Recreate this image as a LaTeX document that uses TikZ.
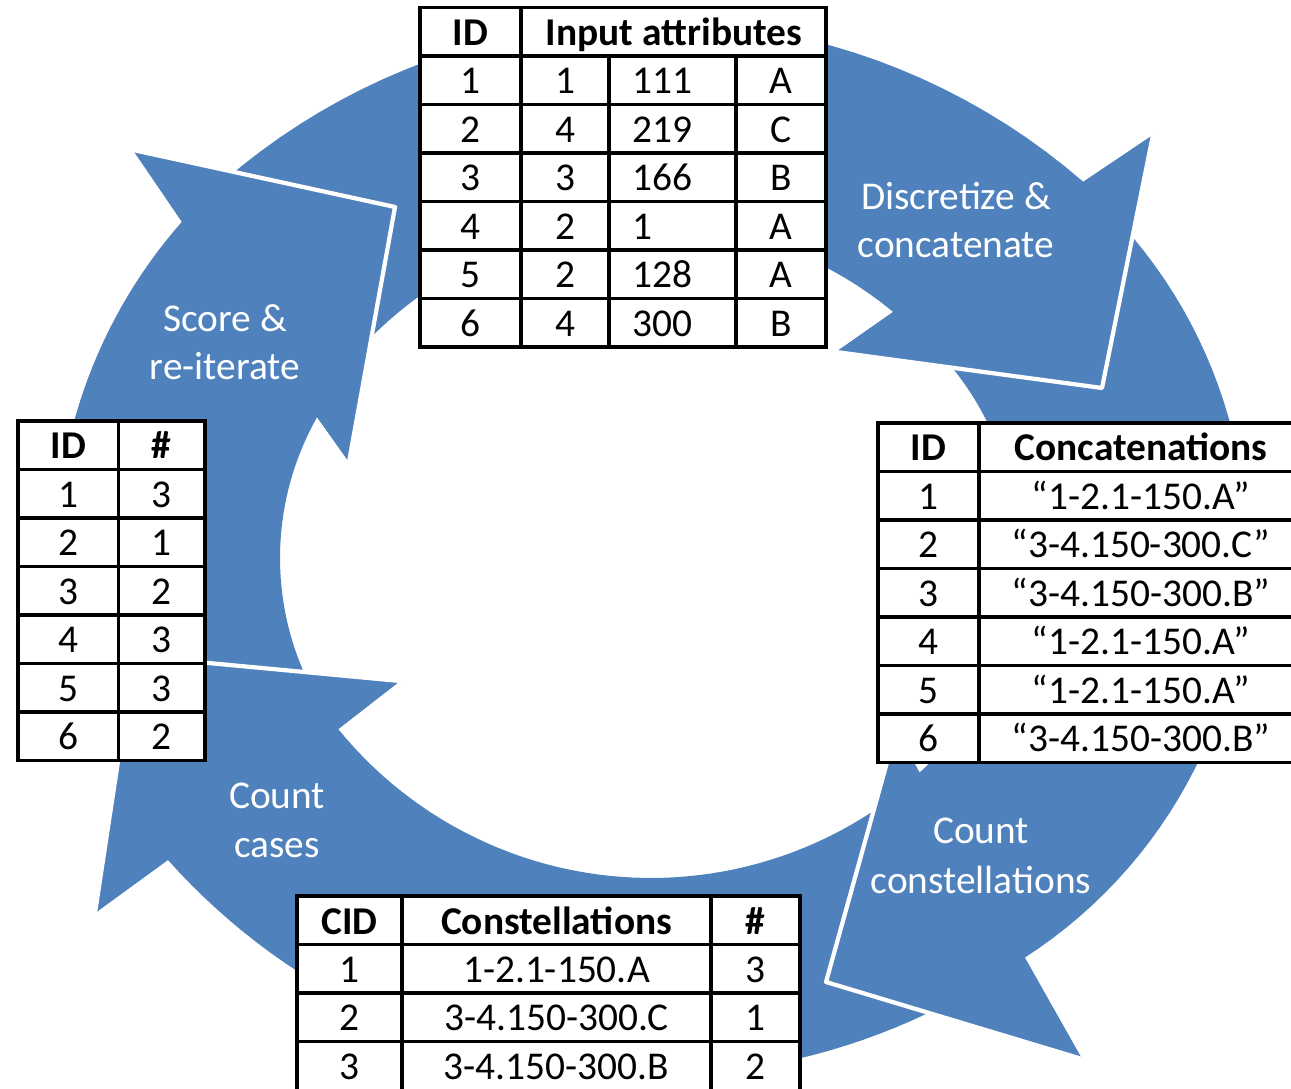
\documentclass[tikz,border=0pt]{standalone}
\usepackage{fontspec}
\setmainfont{Carlito}
\definecolor{cycleblue}{RGB}{79,129,189}
\tikzset{
  bandfill/.style={fill=cycleblue},
  headline/.style={draw=white, line width=1.2pt, line join=round},
  steplabel/.style={text=white, font=\fontsize{11.2pt}{13pt}\selectfont, anchor=base, inner sep=0pt},
  tablegrid/.style={draw=black, line width=0.9pt},
  tablebg/.style={fill=white},
  cell/.style={font=\fontsize{11.2pt}{13pt}\selectfont, anchor=base, inner sep=0pt},
  headcell/.style={cell, font=\fontsize{11.2pt}{13pt}\selectfont\bfseries},
}
\begin{document}
\begin{tikzpicture}[x=0.01cm, y=-0.01cm]
\useasboundingbox (0,0) rectangle (1291,1089);
\fill[bandfill] plot[domain=-131:-49, samples=40] ({653+656*cos(\x)}, {677+656*sin(\x)}) -- (1153,135) -- (1102,388) -- (836,352) -- plot[domain=-50.4:-136, samples=40] ({646+388*cos(\x)}, {611+388*sin(\x)}) -- cycle;
\fill[bandfill] plot[domain=-42:57.2, samples=50] ({762+485*cos(\x)}, {550+485*sin(\x)}) -- (1082,1059) -- (826,982) -- (896,730) -- plot[domain=48.3:-42, samples=50] ({724+294*cos(\x)}, {553+294*sin(\x)}) -- cycle;
\fill[bandfill] plot[domain=63:138.3, samples=50] ({650+646*cos(\x)}, {430+646*sin(\x)}) -- (95,913) -- (134,656) -- (400,681) -- plot[domain=140.9:53, samples=50] ({651+403*cos(\x)}, {475+403*sin(\x)}) -- cycle;
\fill[bandfill] plot[domain=163:221.4, samples=40] ({560+504*cos(\x)}, {555+504*sin(\x)}) -- (133,150) -- (395,207) -- (349,462) -- plot[domain=209.5:153, samples=40] ({566+286*cos(\x)}, {558+286*sin(\x)}) -- cycle;
\fill[bandfill] (1083,182) -- (1153,135) -- (1102,388) -- (836,352) -- (893,312) -- cycle;
\draw[headline] (1153,135) -- (1102,388) -- (836,352);
\fill[bandfill] (1025,958) -- (1082,1059) -- (826,982) -- (896,730) -- (919,772) -- cycle;
\draw[headline] (1082,1059) -- (826,982) -- (896,730);
\fill[bandfill] (168,860) -- (95,913) -- (134,656) -- (400,681) -- (338,729) -- cycle;
\draw[headline] (95,913) -- (134,656) -- (400,681);
\fill[bandfill] (182,222) -- (133,150) -- (395,207) -- (349,462) -- (317,417) -- cycle;
\draw[headline] (133,150) -- (395,207) -- (349,462);
\node[steplabel] (disc-1) at (956,210) {Discretize \&};
\node[steplabel] (disc-2) at (956,258) {concatenate};
\node[steplabel] (cons-1) at (981,844) {Count};
\node[steplabel] (cons-2) at (981,893) {constellations};
\node[steplabel] (case-1) at (277,809) {Count};
\node[steplabel] (case-2) at (277,857) {cases};
\node[steplabel] (score-1) at (225,332) {Score \&};
\node[steplabel] (score-2) at (225,380) {re-iterate};
\fill[tablebg] (420,7.5) rectangle (826,347);
\draw[tablegrid] (420,7.5) rectangle (826,347);
\foreach \y in {56,104.5,...,298.5} \draw[tablegrid] (420,\y) -- (826,\y);
\draw[tablegrid] (521,7.5) -- (521,347);
\draw[tablegrid] (609,56) -- (609,347);
\draw[tablegrid] (736,56) -- (736,347);
\node[headcell] (inp-id) at (470.5,45.5) {ID};
\node[headcell] (inp-attr) at (674,45.5) {Input attributes};
\foreach \id/\va/\vb/\vc [count=\r] in {1/1/111/A,2/4/219/C,3/3/166/B,4/2/1/A,5/2/128/A,6/4/300/B} {
  \node[cell] (inp-\r-1) at (470.5,{45.5+48.5*\r}) {\id};
  \node[cell] (inp-\r-2) at (565,{45.5+48.5*\r}) {\va};
  \node[cell, anchor=base west] (inp-\r-3) at (632,{45.5+48.5*\r}) {\vb};
  \node[cell] (inp-\r-4) at (781,{45.5+48.5*\r}) {\vc};
}
\fill[tablebg] (878,423) rectangle (1303,762.5);
\draw[tablegrid] (878,423) rectangle (1303,762.5);
\foreach \y in {471.5,520,...,714} \draw[tablegrid] (878,\y) -- (1303,\y);
\draw[tablegrid] (979,423) -- (979,762.5);
\node[headcell] (cat-id) at (928.5,461) {ID};
\node[headcell] (cat-str) at (1141,461) {Concatenations};
\foreach \id/\vs [count=\r] in {1/“1-2.1-150.A”,2/“3-4.150-300.C”,3/“3-4.150-300.B”,4/“1-2.1-150.A”,5/“1-2.1-150.A”,6/“3-4.150-300.B”} {
  \node[cell] (cat-\r-1) at (928.5,{461+48.5*\r}) {\id};
  \node[cell] (cat-\r-2) at (1141,{461+48.5*\r}) {\vs};
}
\fill[tablebg] (18,421) rectangle (205,760.5);
\draw[tablegrid] (18,421) rectangle (205,760.5);
\foreach \y in {469.5,518,...,712} \draw[tablegrid] (18,\y) -- (205,\y);
\draw[tablegrid] (118.5,421) -- (118.5,760.5);
\node[headcell] (cnt-id) at (68.25,459) {ID};
\node[headcell] (cnt-num) at (161.75,459) {\#};
\foreach \id/\vn [count=\r] in {1/3,2/1,3/2,4/3,5/3,6/2} {
  \node[cell] (cnt-\r-1) at (68.25,{459+48.5*\r}) {\id};
  \node[cell] (cnt-\r-2) at (161.75,{459+48.5*\r}) {\vn};
}
\fill[tablebg] (297,896) rectangle (800,1095);
\draw[tablegrid] (297,896) rectangle (800,1095);
\foreach \y in {944.5,993,1041.5} \draw[tablegrid] (297,\y) -- (800,\y);
\draw[tablegrid] (402,896) -- (402,1095);
\draw[tablegrid] (711,896) -- (711,1095);
\node[headcell] (con-id) at (349.5,934) {CID};
\node[headcell] (con-str) at (556.5,934) {Constellations};
\node[headcell] (con-num) at (755.5,934) {\#};
\foreach \id/\vs/\vn [count=\r] in {1/1-2.1-150.A/3,2/3-4.150-300.C/1,3/3-4.150-300.B/2} {
  \node[cell] (con-\r-1) at (349.5,{934+48.5*\r}) {\id};
  \node[cell] (con-\r-2) at (556.5,{934+48.5*\r}) {\vs};
  \node[cell] (con-\r-3) at (755.5,{934+48.5*\r}) {\vn};
}
\end{tikzpicture}
\end{document}
